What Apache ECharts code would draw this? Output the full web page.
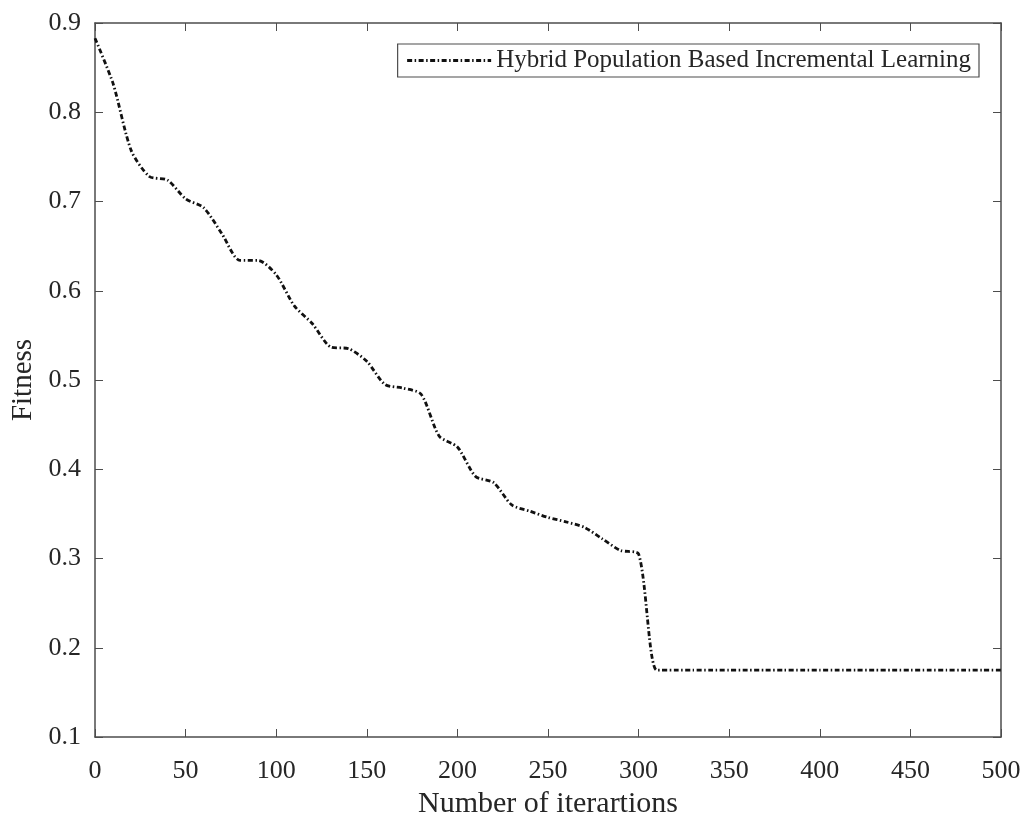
<!DOCTYPE html>
<html>
<head>
<meta charset="utf-8">
<script src="https://cdn.jsdelivr.net/npm/echarts@6/dist/echarts.min.js"></script>
<style>
    html, body { margin: 0; padding: 0; background: #fff; }
    #chart { width: 1027px; height: 816px; }
</style>
</head>
<body>
<div id="chart"></div>
<script>
    var iterations = [0, 10, 20, 30, 40, 50, 60, 70, 80, 90, 100, 110, 120, 130, 140, 150, 160, 170, 180, 190,
        200, 210, 220, 230, 240, 250, 260, 270, 280, 290, 300, 310, 320, 330, 340, 350, 360, 370, 380, 390,
        400, 410, 420, 430, 440, 450, 460, 470, 480, 490, 500];
    var fitness = [0.883, 0.832, 0.757, 0.728, 0.724, 0.703, 0.693, 0.664, 0.634, 0.634, 0.618, 0.583, 0.563, 0.537, 0.535, 0.521, 0.495, 0.491, 0.484, 0.437,
        0.425, 0.392, 0.385, 0.360, 0.353, 0.346, 0.341, 0.335, 0.322, 0.309, 0.305, 0.175, 0.175, 0.175, 0.175, 0.175, 0.175, 0.175, 0.175, 0.175,
        0.175, 0.175, 0.175, 0.175, 0.175, 0.175, 0.175, 0.175, 0.175, 0.175, 0.175];
    var seriesName = 'Hybrid Population Based Incremental Learning';

    var font = 'Liberation Serif';
    var axisColor = '#4d4d4d';
    var textColor = '#262626';

    var points = iterations.map(function (x, i) { return [x, fitness[i]]; });

    var myChart = echarts.init(document.getElementById('chart'));
    var boxAxis = {
        axisLine: { show: true, onZero: false, lineStyle: { color: axisColor, width: 1.5 } },
        axisTick: { show: true, inside: true, length: 8, lineStyle: { color: axisColor, width: 1 } },
        splitLine: { show: false }
    };
    var option = {
        animation: false,
        backgroundColor: '#fff',
        textStyle: { fontFamily: font, color: textColor },
        grid: { left: 95, right: 26, top: 23, bottom: 79, containLabel: false, outerBoundsMode: 'none' },
        legend: {
            right: 48,
            top: 44,
            padding: [4, 8, 4, 8],
            borderColor: axisColor,
            borderWidth: 1.2,
            backgroundColor: '#fff',
            itemWidth: 84,
            itemHeight: 14,
            itemGap: 6,
            itemStyle: { opacity: 0 },
            lineStyle: { width: 3 },
            textStyle: { fontFamily: font, fontSize: 25, color: textColor },
            data: [seriesName]
        },
        xAxis: [
            Object.assign({
                type: 'value',
                min: 0, max: 500, interval: 50,
                name: 'Number of iterartions',
                nameLocation: 'middle',
                nameGap: 51,
                nameTextStyle: { fontFamily: font, fontSize: 30, color: textColor },
                axisLabel: { fontFamily: font, fontSize: 26, color: textColor, margin: 21 }
            }, boxAxis),
            Object.assign({
                type: 'value', position: 'top',
                min: 0, max: 500, interval: 50,
                axisLabel: { show: false }
            }, boxAxis)
        ],
        yAxis: [
            Object.assign({
                type: 'value',
                min: 0.1, max: 0.9, interval: 0.1,
                name: 'Fitness',
                nameLocation: 'middle',
                nameGap: 52,
                nameTextStyle: { fontFamily: font, fontSize: 29, color: textColor },
                axisLabel: {
                    fontFamily: font, fontSize: 26, color: textColor, margin: 14,
                    formatter: function (v) { return v.toFixed(1); }
                }
            }, boxAxis),
            Object.assign({
                type: 'value', position: 'right',
                min: 0.1, max: 0.9, interval: 0.1,
                axisLabel: { show: false }
            }, boxAxis)
        ],
        series: [{
            name: seriesName,
            type: 'line',
            data: points,
            smooth: 0.25,
            showSymbol: false,
            symbol: 'none',
            lineStyle: { color: '#111', width: 2.8, type: [5, 2.5, 1.5, 2.5] },
            itemStyle: { color: '#111' }
        }]
    };
    myChart.setOption(option);
</script>
</body>
</html>
